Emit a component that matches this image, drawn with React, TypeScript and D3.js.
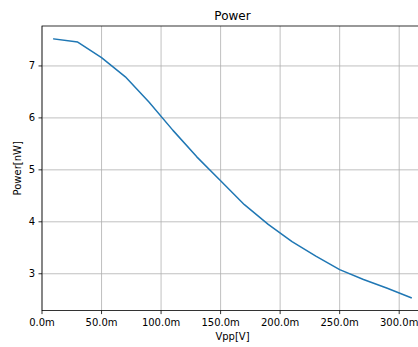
import React from "react";
import * as d3 from "d3";

// Sweep of peak-to-peak drive voltage (mV) and the resulting power (nW)
const vppMilli = [10, 30, 50, 70, 90, 110, 130, 150, 170, 190, 210, 230, 250, 270, 290, 310];
const powerNw = [7.52, 7.46, 7.16, 6.79, 6.3, 5.76, 5.25, 4.79, 4.33, 3.95, 3.62, 3.34, 3.08, 2.89, 2.72, 2.54];
const xTicks = [0, 50, 100, 150, 200, 250, 300];
const yTicks = [3, 4, 5, 6, 7];

const W = 418;
const H = 347;
const left = 42;
const right = 423;
const top = 26;
const bottom = 310.6;
const font = "DejaVu Sans, sans-serif";

export default function App() {
  const yMin = d3.min(powerNw)!;
  const yMax = d3.max(powerNw)!;
  const pad = (yMax - yMin) * 0.05;
  const x = d3.scaleLinear().domain([0, 320]).range([left, right]);
  const y = d3.scaleLinear().domain([yMin - pad, yMax + pad]).range([bottom, top]);

  const line = d3
    .line<number>()
    .x((_, i) => x(vppMilli[i]))
    .y((d) => y(d));

  return (
    <svg
      width={W}
      height={H}
      style={{ position: "absolute", left: 0, top: 0, background: "#fff" }}
      fontFamily={font}
    >
      <rect x={0} y={0} width={W} height={H} fill="#fff" />
      {/* grid */}
      {xTicks.map((t) => (
        <line key={"gx" + t} x1={x(t)} x2={x(t)} y1={top} y2={bottom} stroke="#b0b0b0" strokeWidth={0.8} />
      ))}
      {yTicks.map((t) => (
        <line key={"gy" + t} x1={left} x2={right} y1={y(t)} y2={y(t)} stroke="#b0b0b0" strokeWidth={0.8} />
      ))}
      {/* series */}
      <path d={line(powerNw) ?? ""} fill="none" stroke="#1f77b4" strokeWidth={1.5} strokeLinejoin="round" strokeLinecap="square" />
      {/* frame */}
      <rect x={left} y={top} width={right - left} height={bottom - top} fill="none" stroke="#000" strokeWidth={0.8} />
      {/* x ticks */}
      {xTicks.map((t) => (
        <g key={"tx" + t}>
          <line x1={x(t)} x2={x(t)} y1={bottom} y2={bottom + 3.5} stroke="#000" strokeWidth={0.8} />
          <text x={x(t)} y={bottom + 15.5} fontSize={10} textAnchor="middle" fill="#000">
            {t.toFixed(1) + "m"}
          </text>
        </g>
      ))}
      {/* y ticks */}
      {yTicks.map((t) => (
        <g key={"ty" + t}>
          <line x1={left - 3.5} x2={left} y1={y(t)} y2={y(t)} stroke="#000" strokeWidth={0.8} />
          <text x={left - 7} y={y(t)} dy="0.35em" fontSize={10} textAnchor="end" fill="#000">
            {t}
          </text>
        </g>
      ))}
      <text x={(left + right) / 2} y={top - 6} fontSize={12} textAnchor="middle" fill="#000">
        Power
      </text>
      <text x={(left + right) / 2} y={339.5} fontSize={10} textAnchor="middle" fill="#000">
        Vpp[V]
      </text>
      <text
        transform={`translate(21, ${(top + bottom) / 2}) rotate(-90)`}
        fontSize={10}
        textAnchor="middle"
        fill="#000"
      >
        Power[nW]
      </text>
    </svg>
  );
}
